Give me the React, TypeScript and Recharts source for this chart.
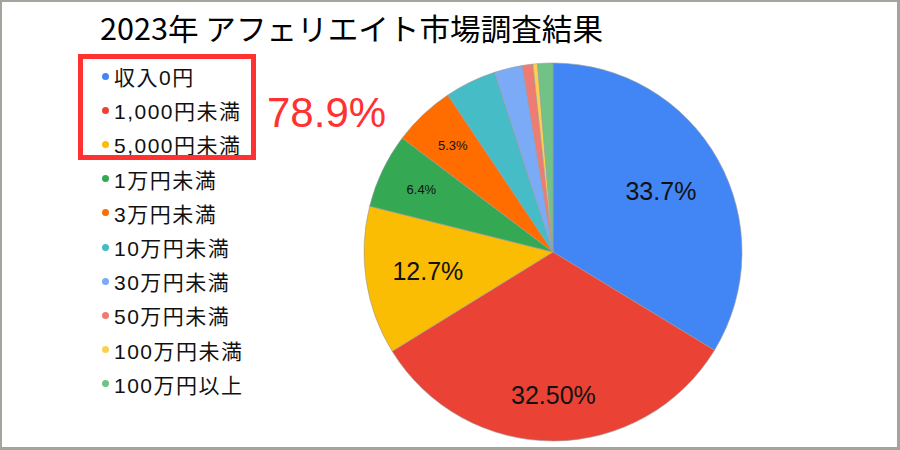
import { PieChart, Pie, Cell } from "recharts";

const categories = [
    "収入0円",
    "1,000円未満",
    "5,000円未満",
    "1万円未満",
    "3万円未満",
    "10万円未満",
    "30万円未満",
    "50万円未満",
    "100万円未満",
    "100万円以上",
];
const shares = [33.7, 32.5, 12.7, 6.4, 5.3, 4.4, 2.4, 0.9, 0.4, 1.3];
const sliceLabels = ["33.7%", "32.50%", "12.7%", "6.4%", "5.3%", "", "", "", "", ""];
const highlightText = "78.9%";
const titleText = "2023年 アフェリエイト市場調査結果";

const colors = [
    "#4285F4", "#EA4335", "#FBBC04", "#34A853", "#FF6D01",
    "#46BDC6", "#7BAAF7", "#F07B72", "#FCD04F", "#71C287",
];

// label distance from center (fraction of radius) and size, per slice
const labelRadius = [0.655, 0.757, 0.67, 0.772, 0.772];
const labelSize = [25, 25, 25, 13, 13];

const data = categories.map((name, i) => ({
    name,
    value: shares[i],
    label: sliceLabels[i],
}));

const RAD = Math.PI / 180;

const renderLabel = (props: any) => {
    const { cx, cy, midAngle, outerRadius, index } = props;
    const text = sliceLabels[index];
    if (!text) return null;
    const r = outerRadius * labelRadius[index];
    const x = cx + r * Math.cos(-midAngle * RAD);
    const y = cy + r * Math.sin(-midAngle * RAD);
    return (
        <text
            x={x}
            y={y}
            fill="#111"
            fontSize={labelSize[index]}
            fontFamily="'Liberation Sans', Arial, sans-serif"
            textAnchor="middle"
            dominantBaseline="central"
        >
            {text}
        </text>
    );
};

const LegendList = () => (
    <div style={{ position: "absolute", left: 102, top: 59 }}>
        {categories.map((name, i) => (
            <div
                key={name}
                style={{
                    display: "flex",
                    alignItems: "center",
                    height: 34.2,
                    fontFamily: "'Liberation Sans', 'Noto Sans CJK JP', sans-serif",
                    fontSize: 21,
                    letterSpacing: 1.5,
                    color: "#111",
                    whiteSpace: "nowrap",
                }}
            >
                <span
                    style={{
                        width: 7,
                        height: 7,
                        borderRadius: "50%",
                        background: colors[i],
                        marginRight: 5,
                        display: "inline-block",
                    }}
                />
                {name}
            </div>
        ))}
    </div>
);

const App = () => {
    return (
        <div
            style={{
                position: "absolute",
                left: 0,
                top: 0,
                width: 900,
                height: 450,
                background: "#fff",
                overflow: "hidden",
            }}
        >
            <PieChart width={900} height={450} margin={{ top: 0, right: 0, bottom: 0, left: 0 }}>
                <Pie
                    data={data}
                    dataKey="value"
                    nameKey="name"
                    cx={553}
                    cy={252}
                    outerRadius={189}
                    startAngle={90}
                    endAngle={-270}
                    stroke="#9a9a9a"
                    strokeWidth={0.6}
                    label={renderLabel}
                    labelLine={false}
                    isAnimationActive={false}
                >
                    {data.map((d, i) => (
                        <Cell key={d.name} fill={colors[i]} />
                    ))}
                </Pie>
            </PieChart>
            <LegendList />
            <svg
                width={900}
                height={450}
                style={{ position: "absolute", left: 0, top: 0, pointerEvents: "none" }}
            >
                <text
                    x={100}
                    y={40}
                    fontSize={30}
                    fontFamily="'Noto Sans CJK JP', sans-serif"
                    fill="#000"
                    textLength={503}
                    lengthAdjust="spacingAndGlyphs"
                >
                    {titleText}
                </text>
                <rect
                    x={80.5}
                    y={56.5}
                    width={173}
                    height={101}
                    fill="none"
                    stroke="#ff3131"
                    strokeWidth={5}
                />
                <text
                    x={267}
                    y={127}
                    fontSize={42}
                    fontFamily="'Liberation Sans', Arial, sans-serif"
                    fill="#ff3131"
                >
                    {highlightText}
                </text>
                <rect x={0} y={0} width={900} height={2} fill="#a3a49b" />
                <rect x={0} y={0} width={2} height={450} fill="#a3a49b" />
                <rect x={897} y={0} width={3} height={450} fill="#a3a49b" />
                <rect x={0} y={447} width={900} height={3} fill="#a3a49b" />
            </svg>
        </div>
    );
};

export default App;
